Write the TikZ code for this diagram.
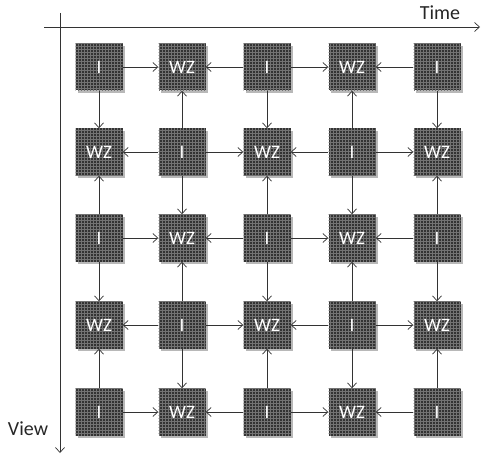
\documentclass[tikz,border=0pt]{standalone}
\usepackage{fontspec}
\setmainfont{Carlito}
\usetikzlibrary{arrows.meta,shadows,patterns}
\begin{document}
\begin{tikzpicture}[x=1pt,y=-1pt,
  cell/.style={minimum width=47pt,minimum height=47pt,inner sep=0pt,
    fill=black!80, text=white, font=\fontsize{19}{19}\selectfont,
    drop shadow={shadow xshift=2.5pt,shadow yshift=-2.5pt,fill=black!35,opacity=0.8},
    postaction={pattern=grid,pattern color=black!55}},
  link/.style={draw=black!80,line width=0.7pt,-{Straight Barb[length=5pt,width=9pt]}},
  axis/.style={draw=black!80,line width=0.7pt,-{Straight Barb[length=5pt,width=9pt]}},
  lab/.style={font=\fontsize{20}{20}\selectfont,text=black!85,inner sep=0pt}]
\useasboundingbox (0,0) rectangle (481,457);
% axes
\coordinate (tA) at (44,27);
\coordinate (tB) at (480,27);
\coordinate (vA) at (60,13);
\coordinate (vB) at (60,453);
\draw[axis] (tA) -- (tB);
\draw[axis] (vA) -- (vB);
\node[lab] (time) at (440,13) {Time};
\node[lab] (view) at (28,429) {View};
% cells
\foreach \r/\y in {1/67,2/152,3/238,4/325,5/412}{
  \foreach \c/\x in {1/99,2/182,3/267,4/352,5/437}{
    \pgfmathtruncatemacro\p{mod(\r+\c,2)}
    \ifnum\p=0 \def\txt{I}\else\def\txt{WZ}\fi
    \node[cell] (n\r\c) at (\x,\y) {\txt};
  }
}
% horizontal links
\foreach \r in {1,...,5}{
  \foreach \c in {1,...,4}{
    \pgfmathtruncatemacro\cn{\c+1}
    \pgfmathtruncatemacro\p{mod(\r+\c,2)}
    \ifnum\p=0
      \draw[link] (n\r\c) -- (n\r\cn);
    \else
      \draw[link] (n\r\cn) -- (n\r\c);
    \fi
  }
}
% vertical links
\foreach \r in {1,...,4}{
  \foreach \c in {1,...,5}{
    \pgfmathtruncatemacro\rn{\r+1}
    \pgfmathtruncatemacro\p{mod(\r+\c,2)}
    \ifnum\p=0
      \draw[link] (n\r\c) -- (n\rn\c);
    \else
      \draw[link] (n\rn\c) -- (n\r\c);
    \fi
  }
}
\end{tikzpicture}
\end{document}
